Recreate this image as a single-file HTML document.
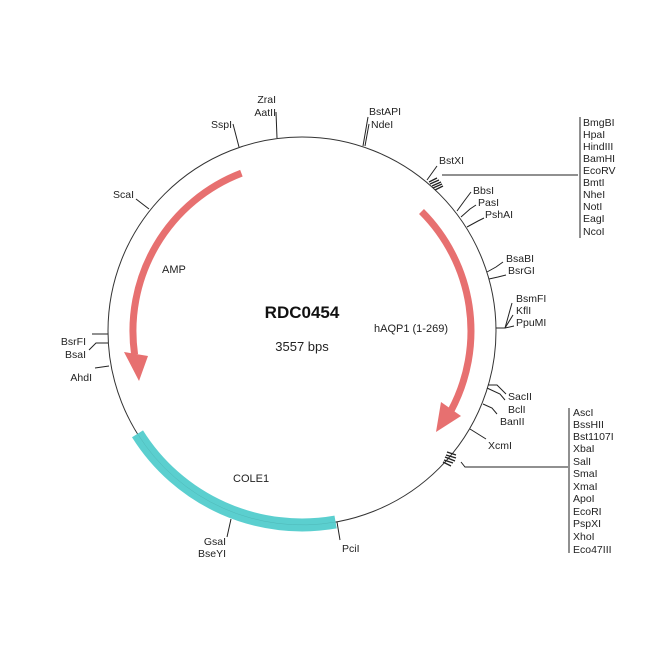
<!DOCTYPE html>
<html><head><meta charset="utf-8"><style>
html,body{margin:0;padding:0;background:#fff;}
svg{display:block;}
text{font-family:"Liberation Sans",Arial,sans-serif;font-size:10.5px;fill:#222;}
</style></head><body>
<svg width="650" height="650" viewBox="0 0 650 650" xmlns="http://www.w3.org/2000/svg">
<rect width="650" height="650" fill="#fff"/>
<!-- main circle -->
<circle cx="302" cy="331" r="194" fill="none" stroke="#333" stroke-width="1"/>
<!-- COLE1 cyan band: 170deg to 238deg, r 187-200 -->
<path d="M335.6,522.0 A194,194 0 0,1 137.5,433.8" fill="none" stroke="#5bcfcf" stroke-width="13"/>
<path d="M335.6,522.0 A194,194 0 0,1 137.5,433.8" fill="none" stroke="#4fb8b8" stroke-width="0.5"/>
<!-- AMP arc: from 339deg to ~262deg at r=169, arrow tip at 253 -->
<path d="M241.4,173.2 A169,169 0 0,0 134.6,354.6" fill="none" stroke="#e77070" stroke-width="7"/>
<polygon points="124,352 148,356 139,381" fill="#e77070"/>
<!-- hAQP1 arc: 45 to ~118 at r=169, tip at 127 -->
<path d="M421.5,211.5 A169,169 0 0,1 451.2,410.3" fill="none" stroke="#e77070" stroke-width="7"/>
<polygon points="441,402 461,416 436,432" fill="#e77070"/>

<!-- ticks -->
<g stroke="#222" stroke-width="1" fill="none">
<line x1="277" y1="138" x2="276" y2="112"/>
<line x1="239" y1="147" x2="233" y2="124"/>
<line x1="149" y1="209" x2="136" y2="199"/>
<line x1="363" y1="146" x2="368" y2="117"/>
<line x1="365" y1="146" x2="369" y2="124"/>
<line x1="427" y1="180" x2="437" y2="166"/>
<!-- cluster 1 -->
<line x1="442" y1="175" x2="578" y2="175"/>
<line x1="580" y1="117" x2="580" y2="238"/>
<!-- BbsI/PasI/PshAI -->
<polyline points="457,211 465,200 471,192"/>
<polyline points="461,217 470,209 476,205"/>
<polyline points="467,227 478,221 484,218"/>
<!-- BsaBI BsrGI -->
<polyline points="487,272 496,267 503,262"/>
<polyline points="489,279 498,277 506,275"/>
<!-- BsmFI KflI PpuMI -->
<polyline points="496,328 505,328 512,303"/>
<polyline points="505,328 513,315"/>
<polyline points="505,328 514,326"/>
<!-- SacII BclI BanII -->
<polyline points="488,385 497,385 506,394"/>
<polyline points="487,388 500,394 505,400"/>
<polyline points="483,404 492,408 497,414"/>
<!-- XcmI -->
<line x1="470" y1="429" x2="486" y2="439"/>
<!-- cluster 2 -->
<polyline points="461,462 465,467 568,467"/>
<line x1="569" y1="408" x2="569" y2="553"/>
<!-- left -->
<polyline points="108,334 92,334"/>
<polyline points="108,343 96,343 89,350"/>
<polyline points="109,366 95,368"/>
<!-- bottom -->
<line x1="231" y1="519" x2="227" y2="537"/>
<line x1="337" y1="522" x2="340" y2="540"/>
</g>
<!-- hatch clusters -->
<g stroke="#222" stroke-width="1.3">
<line x1="429" y1="182" x2="437" y2="178"/>
<line x1="430" y1="184" x2="439" y2="180"/>
<line x1="432" y1="186" x2="441" y2="182"/>
<line x1="433" y1="188" x2="442" y2="184"/>
<line x1="435" y1="190" x2="443" y2="186"/>
<line x1="447" y1="452" x2="456" y2="455"/>
<line x1="446" y1="455" x2="456" y2="458"/>
<line x1="445" y1="457" x2="455" y2="461"/>
<line x1="444" y1="460" x2="453" y2="463"/>
<line x1="443" y1="462" x2="451" y2="466"/>
</g>

<!-- labels -->
<text x="276" y="103" text-anchor="end">ZraI</text>
<text x="276" y="116" text-anchor="end">AatII</text>
<text x="232" y="128" text-anchor="end">SspI</text>
<text x="134" y="198" text-anchor="end">ScaI</text>
<text x="369" y="115">BstAPI</text>
<text x="371" y="128">NdeI</text>
<text x="439" y="164">BstXI</text>
<g>
<text x="583" y="126">BmgBI</text>
<text x="583" y="138">HpaI</text>
<text x="583" y="150">HindIII</text>
<text x="583" y="162">BamHI</text>
<text x="583" y="174">EcoRV</text>
<text x="583" y="186">BmtI</text>
<text x="583" y="198">NheI</text>
<text x="583" y="210">NotI</text>
<text x="583" y="222">EagI</text>
<text x="583" y="235">NcoI</text>
</g>
<text x="473" y="194">BbsI</text>
<text x="478" y="206">PasI</text>
<text x="485" y="218">PshAI</text>
<text x="506" y="262">BsaBI</text>
<text x="508" y="274">BsrGI</text>
<text x="516" y="302">BsmFI</text>
<text x="516" y="314">KflI</text>
<text x="516" y="326">PpuMI</text>
<text x="508" y="400">SacII</text>
<text x="508" y="413">BclI</text>
<text x="500" y="425">BanII</text>
<text x="488" y="449">XcmI</text>
<g>
<text x="573" y="416">AscI</text>
<text x="573" y="428">BssHII</text>
<text x="573" y="440">Bst1107I</text>
<text x="573" y="452">XbaI</text>
<text x="573" y="465">SalI</text>
<text x="573" y="477">SmaI</text>
<text x="573" y="490">XmaI</text>
<text x="573" y="502">ApoI</text>
<text x="573" y="515">EcoRI</text>
<text x="573" y="527">PspXI</text>
<text x="573" y="540">XhoI</text>
<text x="573" y="553">Eco47III</text>
</g>
<text x="86" y="345" text-anchor="end">BsrFI</text>
<text x="86" y="358" text-anchor="end">BsaI</text>
<text x="92" y="381" text-anchor="end">AhdI</text>
<text x="226" y="545" text-anchor="end">GsaI</text>
<text x="226" y="557" text-anchor="end">BseYI</text>
<text x="342" y="552">PciI</text>

<text x="302" y="318" text-anchor="middle" style="font-size:17px;font-weight:bold;fill:#111">RDC0454</text>
<text x="302" y="351" text-anchor="middle" style="font-size:13px">3557 bps</text>
<text x="162" y="273" style="font-size:11px">AMP</text>
<text x="374" y="332" style="font-size:11px">hAQP1 (1-269)</text>
<text x="233" y="482" style="font-size:11px">COLE1</text>
</svg>
</body></html>
